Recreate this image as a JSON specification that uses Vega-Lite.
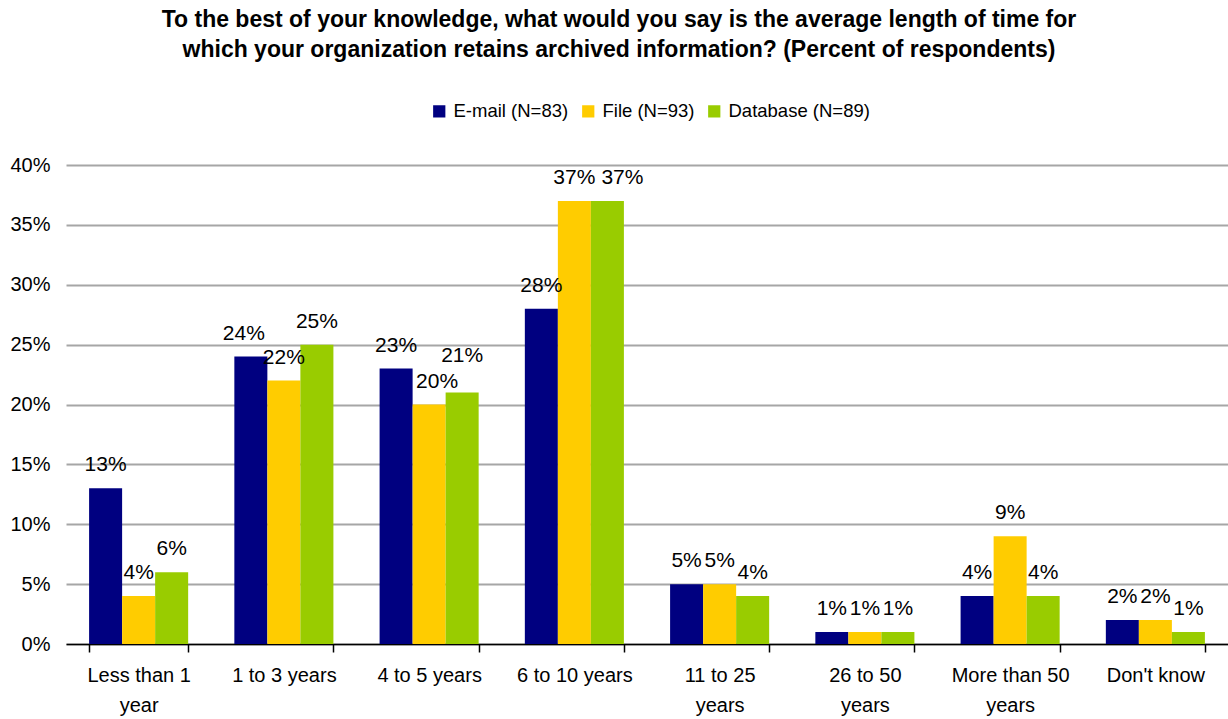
{
  "$schema": "https://vega.github.io/schema/vega-lite/v6.json",
  "width": 1162,
  "height": 479,
  "autosize": {"type": "none"},
  "padding": {"left": 66, "top": 165, "right": 0, "bottom": 75},
  "background": "white",
  "title": {
    "text": ["To the best of your knowledge, what would you say is the average length of time for", "which your organization retains archived information? (Percent of respondents)"],
    "font": "Liberation Sans",
    "fontSize": 23,
    "fontWeight": "bold",
    "color": "black",
    "anchor": "middle",
    "frame": "bounds",
    "lineHeight": 30,
    "offset": 40
  },
  "config": {
    "view": {"stroke": null},
    "font": "Liberation Sans",
    "legend": {"padding": 0}
  },
  "data": {
    "values": [
      {"category": "Less than 1 year", "series": "E-mail (N=83)", "value": 0.13},
      {"category": "Less than 1 year", "series": "File (N=93)", "value": 0.04},
      {"category": "Less than 1 year", "series": "Database (N=89)", "value": 0.06},
      {"category": "1 to 3 years", "series": "E-mail (N=83)", "value": 0.24},
      {"category": "1 to 3 years", "series": "File (N=93)", "value": 0.22},
      {"category": "1 to 3 years", "series": "Database (N=89)", "value": 0.25},
      {"category": "4 to 5 years", "series": "E-mail (N=83)", "value": 0.23},
      {"category": "4 to 5 years", "series": "File (N=93)", "value": 0.20},
      {"category": "4 to 5 years", "series": "Database (N=89)", "value": 0.21},
      {"category": "6 to 10 years", "series": "E-mail (N=83)", "value": 0.28},
      {"category": "6 to 10 years", "series": "File (N=93)", "value": 0.37},
      {"category": "6 to 10 years", "series": "Database (N=89)", "value": 0.37},
      {"category": "11 to 25 years", "series": "E-mail (N=83)", "value": 0.05},
      {"category": "11 to 25 years", "series": "File (N=93)", "value": 0.05},
      {"category": "11 to 25 years", "series": "Database (N=89)", "value": 0.04},
      {"category": "26 to 50 years", "series": "E-mail (N=83)", "value": 0.01},
      {"category": "26 to 50 years", "series": "File (N=93)", "value": 0.01},
      {"category": "26 to 50 years", "series": "Database (N=89)", "value": 0.01},
      {"category": "More than 50 years", "series": "E-mail (N=83)", "value": 0.04},
      {"category": "More than 50 years", "series": "File (N=93)", "value": 0.09},
      {"category": "More than 50 years", "series": "Database (N=89)", "value": 0.04},
      {"category": "Don't know", "series": "E-mail (N=83)", "value": 0.02},
      {"category": "Don't know", "series": "File (N=93)", "value": 0.02},
      {"category": "Don't know", "series": "Database (N=89)", "value": 0.01}
    ]
  },
  "encoding": {
    "x": {
      "field": "category",
      "type": "nominal",
      "sort": null,
      "title": null,
      "scale": {"paddingInner": 0.318, "paddingOuter": 0.159},
      "axis": {
        "labelAngle": 0,
        "labelFont": "Liberation Sans",
        "labelFontSize": 20,
        "labelColor": "black",
        "labelLineHeight": 30,
        "labelBaseline": "top",
        "labelPadding": 13,
        "tickBand": "extent",
        "tickSize": 8,
        "tickColor": "black",
        "tickWidth": 1.5,
        "domainColor": "black",
        "domainWidth": 1.5,
        "labelExpr": "datum.label == 'Less than 1 year' ? ['Less than 1', 'year'] : datum.label == '11 to 25 years' ? ['11 to 25', 'years'] : datum.label == '26 to 50 years' ? ['26 to 50', 'years'] : datum.label == 'More than 50 years' ? ['More than 50', 'years'] : datum.label"
      }
    },
    "xOffset": {"field": "series", "type": "nominal", "sort": ["E-mail (N=83)", "File (N=93)", "Database (N=89)"], "scale": {"paddingInner": 0, "paddingOuter": 0}},
    "y": {
      "field": "value",
      "type": "quantitative",
      "title": null,
      "scale": {"domain": [0, 0.4], "nice": false},
      "axis": {
        "format": "0%",
        "values": [0, 0.05, 0.1, 0.15, 0.2, 0.25, 0.3, 0.35, 0.4],
        "labelFont": "Liberation Sans",
        "labelFontSize": 20,
        "labelColor": "black",
        "labelPadding": 16,
        "ticks": false,
        "domain": false,
        "grid": true,
        "gridColor": "#a6a6a6",
        "gridWidth": 2
      }
    }
  },
  "layer": [
    {
      "mark": {"type": "bar"},
      "encoding": {
        "color": {
          "field": "series",
          "type": "nominal",
          "sort": ["E-mail (N=83)", "File (N=93)", "Database (N=89)"],
          "scale": {"domain": ["E-mail (N=83)", "File (N=93)", "Database (N=89)"], "range": ["#000080", "#FFCC00", "#99CC00"]},
          "legend": {
            "title": null,
            "orient": "none",
            "direction": "horizontal",
            "legendX": 364,
            "legendY": -63,
            "symbolType": "square",
            "symbolSize": 150,
            "symbolStrokeWidth": 0,
            "symbolOpacity": 1,
            "labelFont": "Liberation Sans",
            "labelFontSize": 18.5,
            "labelColor": "black",
            "labelOffset": 5,
            "columnPadding": 10
          }
        }
      }
    },
    {
      "mark": {
        "type": "text",
        "baseline": "alphabetic",
        "dx": {"expr": "datum.category == '6 to 10 years' && datum.series == 'Database (N=89)' ? 15 : datum.category == '1 to 3 years' && datum.series == 'E-mail (N=83)' ? -7 : datum.category == '4 to 5 years' && datum.series == 'File (N=93)' ? 8 : 0"},
        "dy": {"expr": "datum.category == '4 to 5 years' && datum.series == 'Database (N=89)' ? -31 : -17"},
        "font": "Liberation Sans",
        "fontSize": 21,
        "color": "black"
      },
      "encoding": {
        "text": {"field": "value", "type": "quantitative", "format": ".0%"}
      }
    }
  ]
}
